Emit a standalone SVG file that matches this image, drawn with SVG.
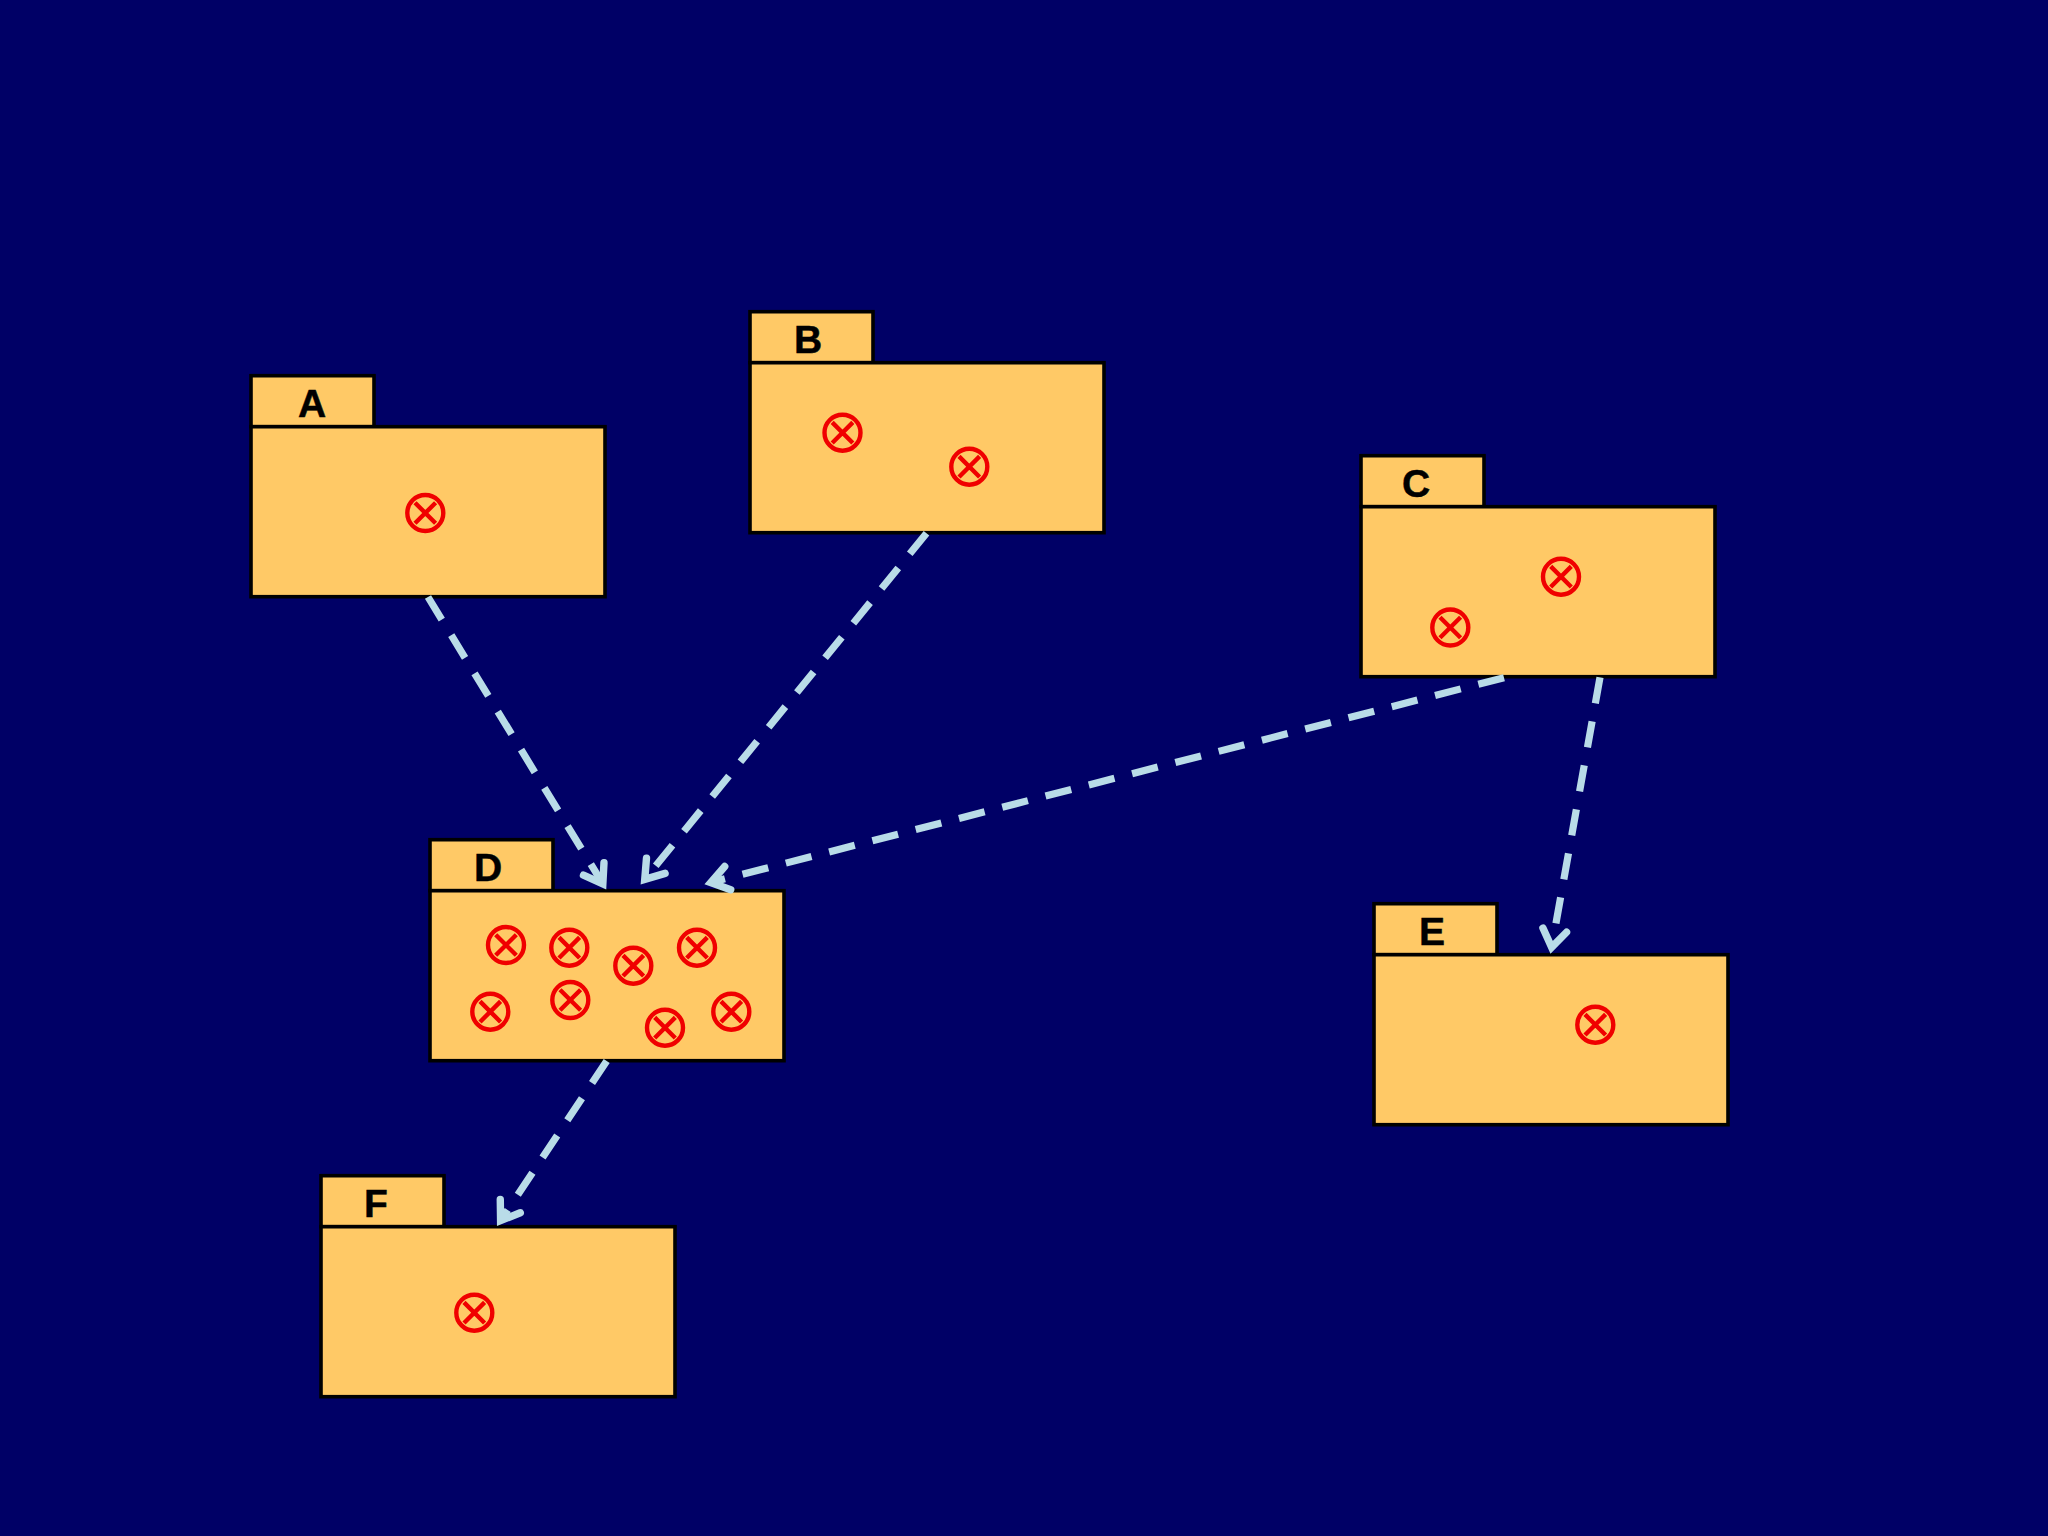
<svg xmlns="http://www.w3.org/2000/svg" width="2048" height="1536" viewBox="0 0 2048 1536">
<defs>
<g id="x"><circle r="18" fill="none" stroke="#f00000" stroke-width="4.4"/><path d="M-10.3-10.3L10.3 10.3M-10.3 10.3L10.3-10.3" stroke="#f00000" stroke-width="4.4" fill="none"/></g>
<marker id="open" markerUnits="userSpaceOnUse" markerWidth="60" markerHeight="60" refX="30" refY="30" orient="auto" overflow="visible"><path d="M14.5 18L32 30L14.5 42" fill="none" stroke="#b9dce8" stroke-width="7.4" stroke-linecap="round" stroke-linejoin="miter" stroke-miterlimit="10"/></marker>
</defs>
<style>
.f{fill:#ffc966;stroke:#000;stroke-width:3.6}
.t{font-family:"Liberation Sans",Arial,sans-serif;font-size:39px;font-weight:bold;fill:#000;text-anchor:middle;stroke:#000;stroke-width:.5}
.c{fill:none;stroke:#b9dce8;stroke-width:7.2;stroke-dasharray:26.5 18.2;marker-end:url(#open)}
</style>
<rect width="2048" height="1536" fill="#000066"/>
<g id="node-A"><rect class="f" x="251" y="375.7" width="123" height="51"/><rect class="f" x="251" y="426.7" width="354" height="170"/><text class="t" x="312" y="417">A</text><use href="#x" x="425.3" y="513"/></g>
<g id="node-B"><rect class="f" x="750" y="311.7" width="123" height="51"/><rect class="f" x="750" y="362.7" width="354" height="170"/><text class="t" x="808" y="353">B</text><use href="#x" x="842.5" y="432.7"/><use href="#x" x="969.3" y="466.7"/></g>
<g id="node-C"><rect class="f" x="1361" y="455.7" width="123" height="51"/><rect class="f" x="1361" y="506.7" width="354" height="170"/><text class="t" x="1416" y="497">C</text><use href="#x" x="1561" y="576.7"/><use href="#x" x="1450.3" y="627.5"/></g>
<g id="node-D"><rect class="f" x="430" y="839.7" width="123" height="51"/><rect class="f" x="430" y="890.7" width="354" height="170"/><text class="t" x="488" y="881">D</text><use href="#x" x="506" y="945"/><use href="#x" x="569.3" y="947.7"/><use href="#x" x="633.3" y="965.7"/><use href="#x" x="697" y="947.7"/><use href="#x" x="490.3" y="1011.7"/><use href="#x" x="570.3" y="1000"/><use href="#x" x="665" y="1027.7"/><use href="#x" x="731.3" y="1011.7"/></g>
<g id="node-E"><rect class="f" x="1374" y="903.7" width="123" height="51"/><rect class="f" x="1374" y="954.7" width="354" height="170"/><text class="t" x="1432" y="945">E</text><use href="#x" x="1595.3" y="1024.7"/></g>
<g id="node-F"><rect class="f" x="321" y="1175.7" width="123" height="51"/><rect class="f" x="321" y="1226.7" width="354" height="170"/><text class="t" x="376" y="1217">F</text><use href="#x" x="474.3" y="1312.7"/></g>
<g id="connectors">
<path class="c" d="M428 597L601.8 882.2"/>
<path class="c" d="M926.5 533.3L646 877.8"/>
<path class="c" d="M1504 677.7L712.7 882"/>
<path class="c" d="M1600 677.3L1552 945.4"/>
<path class="c" d="M606.7 1061L501.7 1219"/>
</g>
</svg>
